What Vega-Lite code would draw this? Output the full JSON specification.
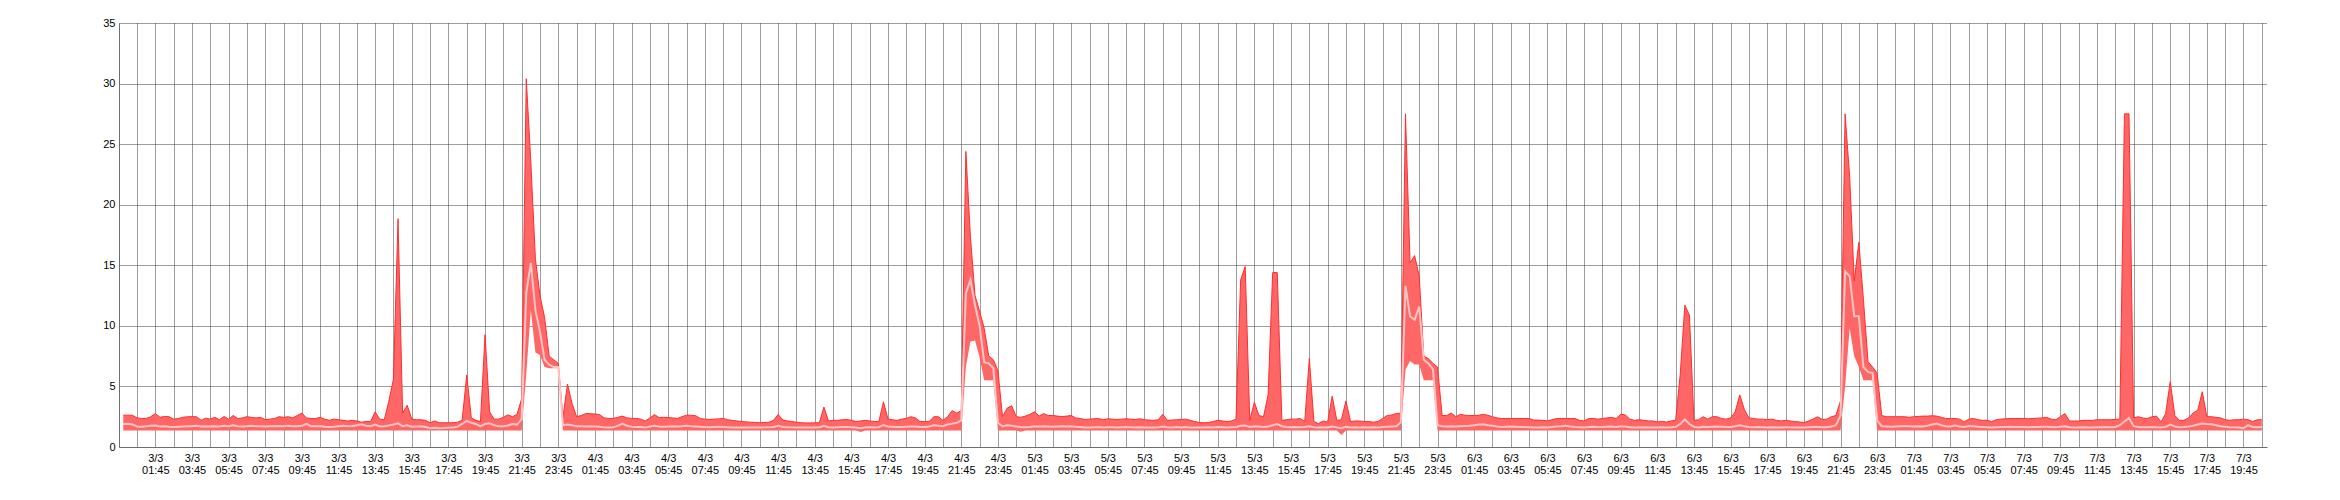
{
"$schema": "https://vega.github.io/schema/vega-lite/v6.json",
"width": 2148,
"height": 424,
"autosize": {"type": "none"},
"padding": {"left": 119, "top": 23, "right": 73, "bottom": 53},
"background": "#ffffff",
"config": {
  "view": {"stroke": null},
  "axis": {"labelFont": "Liberation Sans", "labelFontSize": 11, "labelColor": "#000000", "domainColor": "#6e6e6e", "domainWidth": 1, "gridColor": "#3a3a3a", "gridDash": [1, 1], "gridWidth": 1, "gridOpacity": 1, "ticks": false, "title": null}
},
"data": {"values": [
{"t":"2024-03-03T00:00","hi":2.63,"av":1.90,"lo":1.37},
{"t":"2024-03-03T00:15","hi":2.63,"av":1.92,"lo":1.37},
{"t":"2024-03-03T00:30","hi":2.62,"av":1.85,"lo":1.37},
{"t":"2024-03-03T00:45","hi":2.40,"av":1.70,"lo":1.37},
{"t":"2024-03-03T01:00","hi":2.36,"av":1.68,"lo":1.37},
{"t":"2024-03-03T01:15","hi":2.36,"av":1.72,"lo":1.37},
{"t":"2024-03-03T01:30","hi":2.50,"av":1.75,"lo":1.37},
{"t":"2024-03-03T01:45","hi":2.76,"av":1.78,"lo":1.37},
{"t":"2024-03-03T02:00","hi":2.45,"av":1.70,"lo":1.37},
{"t":"2024-03-03T02:15","hi":2.52,"av":1.72,"lo":1.37},
{"t":"2024-03-03T02:30","hi":2.50,"av":1.68,"lo":1.37},
{"t":"2024-03-03T02:45","hi":2.30,"av":1.65,"lo":1.37},
{"t":"2024-03-03T03:00","hi":2.35,"av":1.68,"lo":1.37},
{"t":"2024-03-03T03:15","hi":2.45,"av":1.70,"lo":1.37},
{"t":"2024-03-03T03:30","hi":2.50,"av":1.72,"lo":1.37},
{"t":"2024-03-03T03:45","hi":2.50,"av":1.72,"lo":1.37},
{"t":"2024-03-03T04:00","hi":2.50,"av":1.75,"lo":1.37},
{"t":"2024-03-03T04:15","hi":2.20,"av":1.70,"lo":1.37},
{"t":"2024-03-03T04:30","hi":2.38,"av":1.72,"lo":1.37},
{"t":"2024-03-03T04:45","hi":2.30,"av":1.70,"lo":1.37},
{"t":"2024-03-03T05:00","hi":2.45,"av":1.72,"lo":1.37},
{"t":"2024-03-03T05:15","hi":2.25,"av":1.70,"lo":1.37},
{"t":"2024-03-03T05:30","hi":2.52,"av":1.75,"lo":1.37},
{"t":"2024-03-03T05:45","hi":2.30,"av":1.72,"lo":1.37},
{"t":"2024-03-03T06:00","hi":2.60,"av":1.80,"lo":1.37},
{"t":"2024-03-03T06:15","hi":2.35,"av":1.72,"lo":1.37},
{"t":"2024-03-03T06:30","hi":2.40,"av":1.70,"lo":1.37},
{"t":"2024-03-03T06:45","hi":2.50,"av":1.72,"lo":1.37},
{"t":"2024-03-03T07:00","hi":2.45,"av":1.75,"lo":1.37},
{"t":"2024-03-03T07:15","hi":2.40,"av":1.72,"lo":1.37},
{"t":"2024-03-03T07:30","hi":2.45,"av":1.72,"lo":1.37},
{"t":"2024-03-03T07:45","hi":2.25,"av":1.70,"lo":1.37},
{"t":"2024-03-03T08:00","hi":2.30,"av":1.72,"lo":1.37},
{"t":"2024-03-03T08:15","hi":2.35,"av":1.74,"lo":1.37},
{"t":"2024-03-03T08:30","hi":2.50,"av":1.72,"lo":1.37},
{"t":"2024-03-03T08:45","hi":2.45,"av":1.72,"lo":1.37},
{"t":"2024-03-03T09:00","hi":2.50,"av":1.75,"lo":1.37},
{"t":"2024-03-03T09:15","hi":2.40,"av":1.72,"lo":1.37},
{"t":"2024-03-03T09:30","hi":2.60,"av":1.72,"lo":1.37},
{"t":"2024-03-03T09:45","hi":2.80,"av":1.75,"lo":1.37},
{"t":"2024-03-03T10:00","hi":2.40,"av":1.92,"lo":1.37},
{"t":"2024-03-03T10:15","hi":2.35,"av":1.72,"lo":1.37},
{"t":"2024-03-03T10:30","hi":2.35,"av":1.72,"lo":1.37},
{"t":"2024-03-03T10:45","hi":2.45,"av":1.74,"lo":1.37},
{"t":"2024-03-03T11:00","hi":2.30,"av":1.68,"lo":1.37},
{"t":"2024-03-03T11:15","hi":2.20,"av":1.65,"lo":1.37},
{"t":"2024-03-03T11:30","hi":2.30,"av":1.68,"lo":1.37},
{"t":"2024-03-03T11:45","hi":2.25,"av":1.72,"lo":1.37},
{"t":"2024-03-03T12:00","hi":2.20,"av":1.75,"lo":1.37},
{"t":"2024-03-03T12:15","hi":2.15,"av":1.72,"lo":1.37},
{"t":"2024-03-03T12:30","hi":2.20,"av":1.74,"lo":1.37},
{"t":"2024-03-03T12:45","hi":2.15,"av":1.80,"lo":1.37},
{"t":"2024-03-03T13:00","hi":2.05,"av":1.88,"lo":1.37},
{"t":"2024-03-03T13:15","hi":2.10,"av":1.75,"lo":1.37},
{"t":"2024-03-03T13:30","hi":2.10,"av":1.72,"lo":1.37},
{"t":"2024-03-03T13:45","hi":2.90,"av":1.85,"lo":1.37},
{"t":"2024-03-03T14:00","hi":2.30,"av":1.70,"lo":1.37},
{"t":"2024-03-03T14:15","hi":2.25,"av":1.72,"lo":1.37},
{"t":"2024-03-03T14:30","hi":3.80,"av":1.78,"lo":1.37},
{"t":"2024-03-03T14:45","hi":5.60,"av":1.85,"lo":1.37},
{"t":"2024-03-03T15:00","hi":18.85,"av":1.95,"lo":1.37},
{"t":"2024-03-03T15:15","hi":2.80,"av":1.72,"lo":1.37},
{"t":"2024-03-03T15:30","hi":3.45,"av":1.80,"lo":1.37},
{"t":"2024-03-03T15:45","hi":2.30,"av":1.68,"lo":1.37},
{"t":"2024-03-03T16:00","hi":2.25,"av":1.70,"lo":1.37},
{"t":"2024-03-03T16:15","hi":2.25,"av":1.72,"lo":1.37},
{"t":"2024-03-03T16:30","hi":2.20,"av":1.65,"lo":1.37},
{"t":"2024-03-03T16:45","hi":2.00,"av":1.55,"lo":1.37},
{"t":"2024-03-03T17:00","hi":2.15,"av":1.58,"lo":1.37},
{"t":"2024-03-03T17:15","hi":2.00,"av":1.55,"lo":1.37},
{"t":"2024-03-03T17:30","hi":2.00,"av":1.56,"lo":1.37},
{"t":"2024-03-03T17:45","hi":2.00,"av":1.58,"lo":1.37},
{"t":"2024-03-03T18:00","hi":2.00,"av":1.60,"lo":1.37},
{"t":"2024-03-03T18:15","hi":2.05,"av":1.68,"lo":1.37},
{"t":"2024-03-03T18:30","hi":2.20,"av":1.90,"lo":1.37},
{"t":"2024-03-03T18:45","hi":5.95,"av":2.15,"lo":1.37},
{"t":"2024-03-03T19:00","hi":2.40,"av":2.00,"lo":1.37},
{"t":"2024-03-03T19:15","hi":2.20,"av":1.90,"lo":1.37},
{"t":"2024-03-03T19:30","hi":2.10,"av":1.70,"lo":1.37},
{"t":"2024-03-03T19:45","hi":9.26,"av":1.90,"lo":1.37},
{"t":"2024-03-03T20:00","hi":2.90,"av":1.95,"lo":1.37},
{"t":"2024-03-03T20:15","hi":2.30,"av":1.80,"lo":1.37},
{"t":"2024-03-03T20:30","hi":2.30,"av":1.72,"lo":1.37},
{"t":"2024-03-03T20:45","hi":2.45,"av":1.72,"lo":1.37},
{"t":"2024-03-03T21:00","hi":2.65,"av":1.78,"lo":1.37},
{"t":"2024-03-03T21:15","hi":2.50,"av":1.90,"lo":1.37},
{"t":"2024-03-03T21:30","hi":2.70,"av":1.85,"lo":1.37},
{"t":"2024-03-03T21:45","hi":4.00,"av":2.30,"lo":1.37},
{"t":"2024-03-03T22:00","hi":30.40,"av":12.70,"lo":6.00},
{"t":"2024-03-03T22:15","hi":23.50,"av":15.20,"lo":11.30},
{"t":"2024-03-03T22:30","hi":15.50,"av":11.30,"lo":7.80},
{"t":"2024-03-03T22:45","hi":12.50,"av":9.50,"lo":7.60},
{"t":"2024-03-03T23:00","hi":10.70,"av":7.20,"lo":6.60},
{"t":"2024-03-03T23:15","hi":7.50,"av":6.80,"lo":6.50},
{"t":"2024-03-03T23:30","hi":7.20,"av":6.60,"lo":6.50},
{"t":"2024-03-03T23:45","hi":6.90,"av":6.60,"lo":6.50},
{"t":"2024-03-04T00:00","hi":2.40,"av":1.80,"lo":1.37},
{"t":"2024-03-04T00:15","hi":5.20,"av":1.85,"lo":1.37},
{"t":"2024-03-04T00:30","hi":3.60,"av":1.80,"lo":1.37},
{"t":"2024-03-04T00:45","hi":2.50,"av":1.72,"lo":1.37},
{"t":"2024-03-04T01:00","hi":2.60,"av":1.72,"lo":1.37},
{"t":"2024-03-04T01:15","hi":2.76,"av":1.70,"lo":1.37},
{"t":"2024-03-04T01:30","hi":2.75,"av":1.72,"lo":1.37},
{"t":"2024-03-04T01:45","hi":2.72,"av":1.70,"lo":1.37},
{"t":"2024-03-04T02:00","hi":2.68,"av":1.68,"lo":1.37},
{"t":"2024-03-04T02:15","hi":2.40,"av":1.62,"lo":1.37},
{"t":"2024-03-04T02:30","hi":2.36,"av":1.60,"lo":1.37},
{"t":"2024-03-04T02:45","hi":2.36,"av":1.62,"lo":1.37},
{"t":"2024-03-04T03:00","hi":2.45,"av":1.75,"lo":1.37},
{"t":"2024-03-04T03:15","hi":2.55,"av":1.93,"lo":1.37},
{"t":"2024-03-04T03:30","hi":2.40,"av":1.75,"lo":1.37},
{"t":"2024-03-04T03:45","hi":2.36,"av":1.68,"lo":1.37},
{"t":"2024-03-04T04:00","hi":2.36,"av":1.66,"lo":1.37},
{"t":"2024-03-04T04:15","hi":2.30,"av":1.66,"lo":1.37},
{"t":"2024-03-04T04:30","hi":2.15,"av":1.62,"lo":1.37},
{"t":"2024-03-04T04:45","hi":2.40,"av":1.70,"lo":1.37},
{"t":"2024-03-04T05:00","hi":2.68,"av":1.75,"lo":1.37},
{"t":"2024-03-04T05:15","hi":2.43,"av":1.70,"lo":1.37},
{"t":"2024-03-04T05:30","hi":2.45,"av":1.68,"lo":1.37},
{"t":"2024-03-04T05:45","hi":2.43,"av":1.70,"lo":1.37},
{"t":"2024-03-04T06:00","hi":2.40,"av":1.72,"lo":1.37},
{"t":"2024-03-04T06:15","hi":2.36,"av":1.70,"lo":1.37},
{"t":"2024-03-04T06:30","hi":2.50,"av":1.72,"lo":1.37},
{"t":"2024-03-04T06:45","hi":2.63,"av":1.75,"lo":1.37},
{"t":"2024-03-04T07:00","hi":2.62,"av":1.72,"lo":1.37},
{"t":"2024-03-04T07:15","hi":2.58,"av":1.70,"lo":1.37},
{"t":"2024-03-04T07:30","hi":2.35,"av":1.68,"lo":1.37},
{"t":"2024-03-04T07:45","hi":2.30,"av":1.66,"lo":1.37},
{"t":"2024-03-04T08:00","hi":2.27,"av":1.64,"lo":1.37},
{"t":"2024-03-04T08:15","hi":2.30,"av":1.66,"lo":1.37},
{"t":"2024-03-04T08:30","hi":2.32,"av":1.68,"lo":1.37},
{"t":"2024-03-04T08:45","hi":2.36,"av":1.66,"lo":1.37},
{"t":"2024-03-04T09:00","hi":2.25,"av":1.64,"lo":1.37},
{"t":"2024-03-04T09:15","hi":2.20,"av":1.62,"lo":1.37},
{"t":"2024-03-04T09:30","hi":2.15,"av":1.62,"lo":1.37},
{"t":"2024-03-04T09:45","hi":2.10,"av":1.60,"lo":1.37},
{"t":"2024-03-04T10:00","hi":2.07,"av":1.60,"lo":1.37},
{"t":"2024-03-04T10:15","hi":2.05,"av":1.62,"lo":1.37},
{"t":"2024-03-04T10:30","hi":2.03,"av":1.62,"lo":1.37},
{"t":"2024-03-04T10:45","hi":2.00,"av":1.60,"lo":1.37},
{"t":"2024-03-04T11:00","hi":2.02,"av":1.62,"lo":1.37},
{"t":"2024-03-04T11:15","hi":2.05,"av":1.64,"lo":1.37},
{"t":"2024-03-04T11:30","hi":2.20,"av":1.66,"lo":1.37},
{"t":"2024-03-04T11:45","hi":2.68,"av":1.75,"lo":1.37},
{"t":"2024-03-04T12:00","hi":2.25,"av":1.66,"lo":1.37},
{"t":"2024-03-04T12:15","hi":2.15,"av":1.64,"lo":1.37},
{"t":"2024-03-04T12:30","hi":2.10,"av":1.62,"lo":1.37},
{"t":"2024-03-04T12:45","hi":2.05,"av":1.60,"lo":1.37},
{"t":"2024-03-04T13:00","hi":2.00,"av":1.60,"lo":1.37},
{"t":"2024-03-04T13:15","hi":1.99,"av":1.62,"lo":1.37},
{"t":"2024-03-04T13:30","hi":1.99,"av":1.62,"lo":1.37},
{"t":"2024-03-04T13:45","hi":2.00,"av":1.60,"lo":1.37},
{"t":"2024-03-04T14:00","hi":2.00,"av":1.62,"lo":1.37},
{"t":"2024-03-04T14:15","hi":3.30,"av":1.75,"lo":1.37},
{"t":"2024-03-04T14:30","hi":2.15,"av":1.64,"lo":1.37},
{"t":"2024-03-04T14:45","hi":2.20,"av":1.62,"lo":1.37},
{"t":"2024-03-04T15:00","hi":2.20,"av":1.64,"lo":1.37},
{"t":"2024-03-04T15:15","hi":2.25,"av":1.66,"lo":1.37},
{"t":"2024-03-04T15:30","hi":2.27,"av":1.66,"lo":1.37},
{"t":"2024-03-04T15:45","hi":2.20,"av":1.64,"lo":1.37},
{"t":"2024-03-04T16:00","hi":2.10,"av":1.60,"lo":1.37},
{"t":"2024-03-04T16:15","hi":2.15,"av":1.55,"lo":1.24},
{"t":"2024-03-04T16:30","hi":2.20,"av":1.62,"lo":1.37},
{"t":"2024-03-04T16:45","hi":2.15,"av":1.64,"lo":1.37},
{"t":"2024-03-04T17:00","hi":2.10,"av":1.62,"lo":1.37},
{"t":"2024-03-04T17:15","hi":2.10,"av":1.64,"lo":1.37},
{"t":"2024-03-04T17:30","hi":3.73,"av":1.82,"lo":1.37},
{"t":"2024-03-04T17:45","hi":2.30,"av":1.70,"lo":1.37},
{"t":"2024-03-04T18:00","hi":2.25,"av":1.68,"lo":1.37},
{"t":"2024-03-04T18:15","hi":2.20,"av":1.66,"lo":1.37},
{"t":"2024-03-04T18:30","hi":2.30,"av":1.66,"lo":1.37},
{"t":"2024-03-04T18:45","hi":2.35,"av":1.68,"lo":1.37},
{"t":"2024-03-04T19:00","hi":2.50,"av":1.70,"lo":1.37},
{"t":"2024-03-04T19:15","hi":2.40,"av":1.70,"lo":1.37},
{"t":"2024-03-04T19:30","hi":2.10,"av":1.66,"lo":1.37},
{"t":"2024-03-04T19:45","hi":2.10,"av":1.66,"lo":1.37},
{"t":"2024-03-04T20:00","hi":2.10,"av":1.70,"lo":1.37},
{"t":"2024-03-04T20:15","hi":2.50,"av":1.80,"lo":1.37},
{"t":"2024-03-04T20:30","hi":2.50,"av":1.76,"lo":1.37},
{"t":"2024-03-04T20:45","hi":2.20,"av":1.72,"lo":1.37},
{"t":"2024-03-04T21:00","hi":2.50,"av":1.85,"lo":1.37},
{"t":"2024-03-04T21:15","hi":3.00,"av":1.93,"lo":1.37},
{"t":"2024-03-04T21:30","hi":2.80,"av":2.00,"lo":1.37},
{"t":"2024-03-04T21:45","hi":3.00,"av":2.20,"lo":1.37},
{"t":"2024-03-04T22:00","hi":24.40,"av":12.70,"lo":6.60},
{"t":"2024-03-04T22:15","hi":17.30,"av":13.80,"lo":8.70},
{"t":"2024-03-04T22:30","hi":12.50,"av":11.70,"lo":8.80},
{"t":"2024-03-04T22:45","hi":11.20,"av":10.00,"lo":7.40},
{"t":"2024-03-04T23:00","hi":9.80,"av":7.00,"lo":5.50},
{"t":"2024-03-04T23:15","hi":7.50,"av":6.90,"lo":5.50},
{"t":"2024-03-04T23:30","hi":7.20,"av":6.50,"lo":5.50},
{"t":"2024-03-04T23:45","hi":6.30,"av":2.00,"lo":1.37},
{"t":"2024-03-05T00:00","hi":2.50,"av":1.70,"lo":1.37},
{"t":"2024-03-05T00:15","hi":3.20,"av":1.80,"lo":1.37},
{"t":"2024-03-05T00:30","hi":3.40,"av":1.75,"lo":1.37},
{"t":"2024-03-05T00:45","hi":2.50,"av":1.70,"lo":1.37},
{"t":"2024-03-05T01:00","hi":2.45,"av":1.66,"lo":1.25},
{"t":"2024-03-05T01:15","hi":2.55,"av":1.64,"lo":1.37},
{"t":"2024-03-05T01:30","hi":2.70,"av":1.66,"lo":1.37},
{"t":"2024-03-05T01:45","hi":2.90,"av":1.72,"lo":1.37},
{"t":"2024-03-05T02:00","hi":2.55,"av":1.70,"lo":1.37},
{"t":"2024-03-05T02:15","hi":2.76,"av":1.72,"lo":1.37},
{"t":"2024-03-05T02:30","hi":2.60,"av":1.70,"lo":1.37},
{"t":"2024-03-05T02:45","hi":2.60,"av":1.68,"lo":1.37},
{"t":"2024-03-05T03:00","hi":2.55,"av":1.70,"lo":1.37},
{"t":"2024-03-05T03:15","hi":2.50,"av":1.72,"lo":1.37},
{"t":"2024-03-05T03:30","hi":2.55,"av":1.70,"lo":1.37},
{"t":"2024-03-05T03:45","hi":2.60,"av":1.72,"lo":1.37},
{"t":"2024-03-05T04:00","hi":2.40,"av":1.68,"lo":1.37},
{"t":"2024-03-05T04:15","hi":2.35,"av":1.66,"lo":1.37},
{"t":"2024-03-05T04:30","hi":2.27,"av":1.62,"lo":1.37},
{"t":"2024-03-05T04:45","hi":2.30,"av":1.62,"lo":1.37},
{"t":"2024-03-05T05:00","hi":2.33,"av":1.64,"lo":1.37},
{"t":"2024-03-05T05:15","hi":2.35,"av":1.66,"lo":1.37},
{"t":"2024-03-05T05:30","hi":2.25,"av":1.62,"lo":1.37},
{"t":"2024-03-05T05:45","hi":2.33,"av":1.64,"lo":1.37},
{"t":"2024-03-05T06:00","hi":2.30,"av":1.64,"lo":1.37},
{"t":"2024-03-05T06:15","hi":2.27,"av":1.62,"lo":1.37},
{"t":"2024-03-05T06:30","hi":2.30,"av":1.64,"lo":1.37},
{"t":"2024-03-05T06:45","hi":2.33,"av":1.66,"lo":1.37},
{"t":"2024-03-05T07:00","hi":2.30,"av":1.64,"lo":1.37},
{"t":"2024-03-05T07:15","hi":2.27,"av":1.62,"lo":1.37},
{"t":"2024-03-05T07:30","hi":2.33,"av":1.64,"lo":1.37},
{"t":"2024-03-05T07:45","hi":2.25,"av":1.62,"lo":1.37},
{"t":"2024-03-05T08:00","hi":2.22,"av":1.62,"lo":1.37},
{"t":"2024-03-05T08:15","hi":2.20,"av":1.60,"lo":1.37},
{"t":"2024-03-05T08:30","hi":2.25,"av":1.62,"lo":1.37},
{"t":"2024-03-05T08:45","hi":2.70,"av":1.70,"lo":1.37},
{"t":"2024-03-05T09:00","hi":2.20,"av":1.64,"lo":1.37},
{"t":"2024-03-05T09:15","hi":2.22,"av":1.62,"lo":1.37},
{"t":"2024-03-05T09:30","hi":2.25,"av":1.66,"lo":1.37},
{"t":"2024-03-05T09:45","hi":2.27,"av":1.62,"lo":1.37},
{"t":"2024-03-05T10:00","hi":2.30,"av":1.66,"lo":1.37},
{"t":"2024-03-05T10:15","hi":2.20,"av":1.60,"lo":1.37},
{"t":"2024-03-05T10:30","hi":2.10,"av":1.62,"lo":1.37},
{"t":"2024-03-05T10:45","hi":2.02,"av":1.62,"lo":1.37},
{"t":"2024-03-05T11:00","hi":2.00,"av":1.62,"lo":1.37},
{"t":"2024-03-05T11:15","hi":2.02,"av":1.64,"lo":1.37},
{"t":"2024-03-05T11:30","hi":2.10,"av":1.62,"lo":1.37},
{"t":"2024-03-05T11:45","hi":2.20,"av":1.66,"lo":1.37},
{"t":"2024-03-05T12:00","hi":2.15,"av":1.64,"lo":1.37},
{"t":"2024-03-05T12:15","hi":2.10,"av":1.62,"lo":1.37},
{"t":"2024-03-05T12:30","hi":2.15,"av":1.64,"lo":1.37},
{"t":"2024-03-05T12:45","hi":2.30,"av":1.66,"lo":1.37},
{"t":"2024-03-05T13:00","hi":13.80,"av":1.75,"lo":1.37},
{"t":"2024-03-05T13:15","hi":14.90,"av":1.78,"lo":1.37},
{"t":"2024-03-05T13:30","hi":2.20,"av":1.66,"lo":1.37},
{"t":"2024-03-05T13:45","hi":3.70,"av":1.72,"lo":1.37},
{"t":"2024-03-05T14:00","hi":2.60,"av":1.70,"lo":1.37},
{"t":"2024-03-05T14:15","hi":2.50,"av":1.66,"lo":1.37},
{"t":"2024-03-05T14:30","hi":4.30,"av":1.70,"lo":1.37},
{"t":"2024-03-05T14:45","hi":14.40,"av":1.80,"lo":1.37},
{"t":"2024-03-05T15:00","hi":14.40,"av":1.90,"lo":1.37},
{"t":"2024-03-05T15:15","hi":2.20,"av":1.72,"lo":1.37},
{"t":"2024-03-05T15:30","hi":2.25,"av":1.66,"lo":1.37},
{"t":"2024-03-05T15:45","hi":2.30,"av":1.64,"lo":1.37},
{"t":"2024-03-05T16:00","hi":2.30,"av":1.66,"lo":1.37},
{"t":"2024-03-05T16:15","hi":2.35,"av":1.64,"lo":1.37},
{"t":"2024-03-05T16:30","hi":2.10,"av":1.66,"lo":1.37},
{"t":"2024-03-05T16:45","hi":7.30,"av":1.72,"lo":1.37},
{"t":"2024-03-05T17:00","hi":2.10,"av":1.64,"lo":1.37},
{"t":"2024-03-05T17:15","hi":1.93,"av":1.62,"lo":1.37},
{"t":"2024-03-05T17:30","hi":2.15,"av":1.64,"lo":1.37},
{"t":"2024-03-05T17:45","hi":2.05,"av":1.62,"lo":1.37},
{"t":"2024-03-05T18:00","hi":4.20,"av":1.70,"lo":1.37},
{"t":"2024-03-05T18:15","hi":2.20,"av":1.62,"lo":1.37},
{"t":"2024-03-05T18:30","hi":2.25,"av":1.55,"lo":1.00},
{"t":"2024-03-05T18:45","hi":3.80,"av":1.66,"lo":1.37},
{"t":"2024-03-05T19:00","hi":2.10,"av":1.62,"lo":1.37},
{"t":"2024-03-05T19:15","hi":2.15,"av":1.64,"lo":1.37},
{"t":"2024-03-05T19:30","hi":2.15,"av":1.62,"lo":1.37},
{"t":"2024-03-05T19:45","hi":2.10,"av":1.64,"lo":1.37},
{"t":"2024-03-05T20:00","hi":2.10,"av":1.62,"lo":1.37},
{"t":"2024-03-05T20:15","hi":2.05,"av":1.64,"lo":1.37},
{"t":"2024-03-05T20:30","hi":2.10,"av":1.62,"lo":1.37},
{"t":"2024-03-05T20:45","hi":2.35,"av":1.66,"lo":1.37},
{"t":"2024-03-05T21:00","hi":2.60,"av":1.68,"lo":1.37},
{"t":"2024-03-05T21:15","hi":2.65,"av":1.70,"lo":1.37},
{"t":"2024-03-05T21:30","hi":2.76,"av":1.72,"lo":1.37},
{"t":"2024-03-05T21:45","hi":2.80,"av":2.05,"lo":1.37},
{"t":"2024-03-05T22:00","hi":27.50,"av":13.30,"lo":6.40},
{"t":"2024-03-05T22:15","hi":15.20,"av":10.80,"lo":7.10},
{"t":"2024-03-05T22:30","hi":15.80,"av":10.50,"lo":6.80},
{"t":"2024-03-05T22:45","hi":14.10,"av":11.60,"lo":6.80},
{"t":"2024-03-05T23:00","hi":7.50,"av":7.20,"lo":5.50},
{"t":"2024-03-05T23:15","hi":7.30,"av":6.90,"lo":5.50},
{"t":"2024-03-05T23:30","hi":6.90,"av":6.40,"lo":5.50},
{"t":"2024-03-05T23:45","hi":6.60,"av":1.80,"lo":1.37},
{"t":"2024-03-06T00:00","hi":2.60,"av":1.72,"lo":1.37},
{"t":"2024-03-06T00:15","hi":2.60,"av":1.70,"lo":1.37},
{"t":"2024-03-06T00:30","hi":2.80,"av":1.72,"lo":1.37},
{"t":"2024-03-06T00:45","hi":2.50,"av":1.70,"lo":1.37},
{"t":"2024-03-06T01:00","hi":2.70,"av":1.72,"lo":1.37},
{"t":"2024-03-06T01:15","hi":2.62,"av":1.74,"lo":1.37},
{"t":"2024-03-06T01:30","hi":2.60,"av":1.76,"lo":1.37},
{"t":"2024-03-06T01:45","hi":2.60,"av":1.80,"lo":1.37},
{"t":"2024-03-06T02:00","hi":2.62,"av":1.85,"lo":1.37},
{"t":"2024-03-06T02:15","hi":2.70,"av":1.88,"lo":1.37},
{"t":"2024-03-06T02:30","hi":2.62,"av":1.80,"lo":1.37},
{"t":"2024-03-06T02:45","hi":2.50,"av":1.75,"lo":1.37},
{"t":"2024-03-06T03:00","hi":2.40,"av":1.70,"lo":1.37},
{"t":"2024-03-06T03:15","hi":2.35,"av":1.66,"lo":1.37},
{"t":"2024-03-06T03:30","hi":2.35,"av":1.68,"lo":1.37},
{"t":"2024-03-06T03:45","hi":2.35,"av":1.70,"lo":1.37},
{"t":"2024-03-06T04:00","hi":2.35,"av":1.68,"lo":1.37},
{"t":"2024-03-06T04:15","hi":2.35,"av":1.66,"lo":1.37},
{"t":"2024-03-06T04:30","hi":2.35,"av":1.66,"lo":1.37},
{"t":"2024-03-06T04:45","hi":2.35,"av":1.64,"lo":1.37},
{"t":"2024-03-06T05:00","hi":2.22,"av":1.62,"lo":1.37},
{"t":"2024-03-06T05:15","hi":2.22,"av":1.62,"lo":1.37},
{"t":"2024-03-06T05:30","hi":2.20,"av":1.64,"lo":1.37},
{"t":"2024-03-06T05:45","hi":2.15,"av":1.62,"lo":1.37},
{"t":"2024-03-06T06:00","hi":2.25,"av":1.66,"lo":1.37},
{"t":"2024-03-06T06:15","hi":2.35,"av":1.70,"lo":1.37},
{"t":"2024-03-06T06:30","hi":2.35,"av":1.72,"lo":1.37},
{"t":"2024-03-06T06:45","hi":2.35,"av":1.75,"lo":1.37},
{"t":"2024-03-06T07:00","hi":2.35,"av":1.70,"lo":1.37},
{"t":"2024-03-06T07:15","hi":2.35,"av":1.66,"lo":1.37},
{"t":"2024-03-06T07:30","hi":2.20,"av":1.64,"lo":1.37},
{"t":"2024-03-06T07:45","hi":2.15,"av":1.62,"lo":1.37},
{"t":"2024-03-06T08:00","hi":2.35,"av":1.66,"lo":1.37},
{"t":"2024-03-06T08:15","hi":2.35,"av":1.68,"lo":1.37},
{"t":"2024-03-06T08:30","hi":2.30,"av":1.66,"lo":1.37},
{"t":"2024-03-06T08:45","hi":2.35,"av":1.66,"lo":1.37},
{"t":"2024-03-06T09:00","hi":2.40,"av":1.68,"lo":1.37},
{"t":"2024-03-06T09:15","hi":2.45,"av":1.70,"lo":1.37},
{"t":"2024-03-06T09:30","hi":2.35,"av":1.66,"lo":1.37},
{"t":"2024-03-06T09:45","hi":2.70,"av":1.72,"lo":1.37},
{"t":"2024-03-06T10:00","hi":2.65,"av":1.70,"lo":1.37},
{"t":"2024-03-06T10:15","hi":2.30,"av":1.64,"lo":1.37},
{"t":"2024-03-06T10:30","hi":2.20,"av":1.62,"lo":1.37},
{"t":"2024-03-06T10:45","hi":2.25,"av":1.62,"lo":1.37},
{"t":"2024-03-06T11:00","hi":2.20,"av":1.64,"lo":1.37},
{"t":"2024-03-06T11:15","hi":2.15,"av":1.62,"lo":1.37},
{"t":"2024-03-06T11:30","hi":2.15,"av":1.62,"lo":1.37},
{"t":"2024-03-06T11:45","hi":2.07,"av":1.60,"lo":1.37},
{"t":"2024-03-06T12:00","hi":2.10,"av":1.62,"lo":1.37},
{"t":"2024-03-06T12:15","hi":2.07,"av":1.60,"lo":1.37},
{"t":"2024-03-06T12:30","hi":2.15,"av":1.62,"lo":1.37},
{"t":"2024-03-06T12:45","hi":2.20,"av":1.66,"lo":1.37},
{"t":"2024-03-06T13:00","hi":6.00,"av":1.90,"lo":1.37},
{"t":"2024-03-06T13:15","hi":11.70,"av":2.27,"lo":1.37},
{"t":"2024-03-06T13:30","hi":10.90,"av":1.90,"lo":1.37},
{"t":"2024-03-06T13:45","hi":2.20,"av":1.66,"lo":1.37},
{"t":"2024-03-06T14:00","hi":2.25,"av":1.62,"lo":1.37},
{"t":"2024-03-06T14:15","hi":2.50,"av":1.68,"lo":1.37},
{"t":"2024-03-06T14:30","hi":2.30,"av":1.66,"lo":1.37},
{"t":"2024-03-06T14:45","hi":2.50,"av":1.68,"lo":1.37},
{"t":"2024-03-06T15:00","hi":2.50,"av":1.70,"lo":1.37},
{"t":"2024-03-06T15:15","hi":2.35,"av":1.68,"lo":1.37},
{"t":"2024-03-06T15:30","hi":2.30,"av":1.66,"lo":1.37},
{"t":"2024-03-06T15:45","hi":2.40,"av":1.66,"lo":1.37},
{"t":"2024-03-06T16:00","hi":2.90,"av":1.72,"lo":1.37},
{"t":"2024-03-06T16:15","hi":4.30,"av":1.80,"lo":1.37},
{"t":"2024-03-06T16:30","hi":3.10,"av":1.72,"lo":1.37},
{"t":"2024-03-06T16:45","hi":2.40,"av":1.66,"lo":1.37},
{"t":"2024-03-06T17:00","hi":2.35,"av":1.64,"lo":1.37},
{"t":"2024-03-06T17:15","hi":2.30,"av":1.66,"lo":1.37},
{"t":"2024-03-06T17:30","hi":2.30,"av":1.64,"lo":1.37},
{"t":"2024-03-06T17:45","hi":2.25,"av":1.62,"lo":1.37},
{"t":"2024-03-06T18:00","hi":2.30,"av":1.64,"lo":1.37},
{"t":"2024-03-06T18:15","hi":2.20,"av":1.62,"lo":1.37},
{"t":"2024-03-06T18:30","hi":2.15,"av":1.62,"lo":1.37},
{"t":"2024-03-06T18:45","hi":2.20,"av":1.64,"lo":1.37},
{"t":"2024-03-06T19:00","hi":2.15,"av":1.62,"lo":1.37},
{"t":"2024-03-06T19:15","hi":2.10,"av":1.60,"lo":1.37},
{"t":"2024-03-06T19:30","hi":2.07,"av":1.62,"lo":1.37},
{"t":"2024-03-06T19:45","hi":2.00,"av":1.62,"lo":1.37},
{"t":"2024-03-06T20:00","hi":2.15,"av":1.64,"lo":1.37},
{"t":"2024-03-06T20:15","hi":2.30,"av":1.66,"lo":1.37},
{"t":"2024-03-06T20:30","hi":2.50,"av":1.66,"lo":1.37},
{"t":"2024-03-06T20:45","hi":2.27,"av":1.64,"lo":1.37},
{"t":"2024-03-06T21:00","hi":2.30,"av":1.64,"lo":1.37},
{"t":"2024-03-06T21:15","hi":2.50,"av":1.70,"lo":1.37},
{"t":"2024-03-06T21:30","hi":2.60,"av":1.80,"lo":1.37},
{"t":"2024-03-06T21:45","hi":3.80,"av":2.60,"lo":1.37},
{"t":"2024-03-06T22:00","hi":27.50,"av":14.50,"lo":5.00},
{"t":"2024-03-06T22:15","hi":22.30,"av":14.10,"lo":9.80},
{"t":"2024-03-06T22:30","hi":13.70,"av":10.80,"lo":7.50},
{"t":"2024-03-06T22:45","hi":16.90,"av":10.80,"lo":6.60},
{"t":"2024-03-06T23:00","hi":12.20,"av":6.60,"lo":5.50},
{"t":"2024-03-06T23:15","hi":7.05,"av":6.20,"lo":5.50},
{"t":"2024-03-06T23:30","hi":6.60,"av":6.10,"lo":5.50},
{"t":"2024-03-06T23:45","hi":6.10,"av":2.20,"lo":1.37},
{"t":"2024-03-07T00:00","hi":2.60,"av":1.72,"lo":1.37},
{"t":"2024-03-07T00:15","hi":2.50,"av":1.70,"lo":1.37},
{"t":"2024-03-07T00:30","hi":2.50,"av":1.68,"lo":1.37},
{"t":"2024-03-07T00:45","hi":2.50,"av":1.70,"lo":1.37},
{"t":"2024-03-07T01:00","hi":2.50,"av":1.72,"lo":1.37},
{"t":"2024-03-07T01:15","hi":2.50,"av":1.74,"lo":1.37},
{"t":"2024-03-07T01:30","hi":2.45,"av":1.72,"lo":1.37},
{"t":"2024-03-07T01:45","hi":2.50,"av":1.70,"lo":1.37},
{"t":"2024-03-07T02:00","hi":2.52,"av":1.72,"lo":1.37},
{"t":"2024-03-07T02:15","hi":2.55,"av":1.70,"lo":1.37},
{"t":"2024-03-07T02:30","hi":2.55,"av":1.76,"lo":1.37},
{"t":"2024-03-07T02:45","hi":2.58,"av":1.85,"lo":1.37},
{"t":"2024-03-07T03:00","hi":2.55,"av":1.93,"lo":1.37},
{"t":"2024-03-07T03:15","hi":2.45,"av":1.80,"lo":1.37},
{"t":"2024-03-07T03:30","hi":2.35,"av":1.72,"lo":1.37},
{"t":"2024-03-07T03:45","hi":2.35,"av":1.70,"lo":1.37},
{"t":"2024-03-07T04:00","hi":2.35,"av":1.78,"lo":1.37},
{"t":"2024-03-07T04:15","hi":2.30,"av":1.70,"lo":1.37},
{"t":"2024-03-07T04:30","hi":2.07,"av":1.66,"lo":1.37},
{"t":"2024-03-07T04:45","hi":2.30,"av":1.74,"lo":1.37},
{"t":"2024-03-07T05:00","hi":2.35,"av":1.72,"lo":1.37},
{"t":"2024-03-07T05:15","hi":2.25,"av":1.68,"lo":1.37},
{"t":"2024-03-07T05:30","hi":2.20,"av":1.66,"lo":1.37},
{"t":"2024-03-07T05:45","hi":2.20,"av":1.64,"lo":1.37},
{"t":"2024-03-07T06:00","hi":2.10,"av":1.62,"lo":1.37},
{"t":"2024-03-07T06:15","hi":2.25,"av":1.64,"lo":1.37},
{"t":"2024-03-07T06:30","hi":2.30,"av":1.66,"lo":1.37},
{"t":"2024-03-07T06:45","hi":2.33,"av":1.66,"lo":1.37},
{"t":"2024-03-07T07:00","hi":2.35,"av":1.68,"lo":1.37},
{"t":"2024-03-07T07:15","hi":2.35,"av":1.66,"lo":1.37},
{"t":"2024-03-07T07:30","hi":2.35,"av":1.66,"lo":1.37},
{"t":"2024-03-07T07:45","hi":2.35,"av":1.66,"lo":1.37},
{"t":"2024-03-07T08:00","hi":2.33,"av":1.64,"lo":1.37},
{"t":"2024-03-07T08:15","hi":2.35,"av":1.66,"lo":1.37},
{"t":"2024-03-07T08:30","hi":2.38,"av":1.66,"lo":1.37},
{"t":"2024-03-07T08:45","hi":2.40,"av":1.68,"lo":1.37},
{"t":"2024-03-07T09:00","hi":2.45,"av":1.68,"lo":1.37},
{"t":"2024-03-07T09:15","hi":2.30,"av":1.66,"lo":1.37},
{"t":"2024-03-07T09:30","hi":2.25,"av":1.64,"lo":1.37},
{"t":"2024-03-07T09:45","hi":2.50,"av":1.68,"lo":1.37},
{"t":"2024-03-07T10:00","hi":2.76,"av":1.72,"lo":1.37},
{"t":"2024-03-07T10:15","hi":2.15,"av":1.64,"lo":1.37},
{"t":"2024-03-07T10:30","hi":2.15,"av":1.62,"lo":1.37},
{"t":"2024-03-07T10:45","hi":2.15,"av":1.62,"lo":1.37},
{"t":"2024-03-07T11:00","hi":2.20,"av":1.64,"lo":1.37},
{"t":"2024-03-07T11:15","hi":2.20,"av":1.62,"lo":1.37},
{"t":"2024-03-07T11:30","hi":2.20,"av":1.62,"lo":1.37},
{"t":"2024-03-07T11:45","hi":2.25,"av":1.64,"lo":1.37},
{"t":"2024-03-07T12:00","hi":2.25,"av":1.64,"lo":1.37},
{"t":"2024-03-07T12:15","hi":2.25,"av":1.66,"lo":1.37},
{"t":"2024-03-07T12:30","hi":2.25,"av":1.64,"lo":1.37},
{"t":"2024-03-07T12:45","hi":2.28,"av":1.66,"lo":1.37},
{"t":"2024-03-07T13:00","hi":2.30,"av":1.80,"lo":1.37},
{"t":"2024-03-07T13:15","hi":27.50,"av":2.10,"lo":1.37},
{"t":"2024-03-07T13:30","hi":27.50,"av":2.40,"lo":1.37},
{"t":"2024-03-07T13:45","hi":2.40,"av":1.72,"lo":1.37},
{"t":"2024-03-07T14:00","hi":2.50,"av":1.66,"lo":1.37},
{"t":"2024-03-07T14:15","hi":2.40,"av":1.64,"lo":1.37},
{"t":"2024-03-07T14:30","hi":2.35,"av":1.64,"lo":1.37},
{"t":"2024-03-07T14:45","hi":2.50,"av":1.66,"lo":1.37},
{"t":"2024-03-07T15:00","hi":2.55,"av":1.64,"lo":1.37},
{"t":"2024-03-07T15:15","hi":2.07,"av":1.62,"lo":1.37},
{"t":"2024-03-07T15:30","hi":2.76,"av":1.66,"lo":1.37},
{"t":"2024-03-07T15:45","hi":5.40,"av":1.85,"lo":1.37},
{"t":"2024-03-07T16:00","hi":2.60,"av":1.70,"lo":1.37},
{"t":"2024-03-07T16:15","hi":2.20,"av":1.64,"lo":1.37},
{"t":"2024-03-07T16:30","hi":2.20,"av":1.66,"lo":1.37},
{"t":"2024-03-07T16:45","hi":2.40,"av":1.70,"lo":1.37},
{"t":"2024-03-07T17:00","hi":2.80,"av":1.76,"lo":1.37},
{"t":"2024-03-07T17:15","hi":3.04,"av":1.85,"lo":1.37},
{"t":"2024-03-07T17:30","hi":4.56,"av":1.93,"lo":1.37},
{"t":"2024-03-07T17:45","hi":2.50,"av":1.90,"lo":1.37},
{"t":"2024-03-07T18:00","hi":2.50,"av":1.88,"lo":1.37},
{"t":"2024-03-07T18:15","hi":2.45,"av":1.80,"lo":1.37},
{"t":"2024-03-07T18:30","hi":2.40,"av":1.72,"lo":1.37},
{"t":"2024-03-07T18:45","hi":2.25,"av":1.68,"lo":1.37},
{"t":"2024-03-07T19:00","hi":2.20,"av":1.64,"lo":1.37},
{"t":"2024-03-07T19:15","hi":2.25,"av":1.62,"lo":1.37},
{"t":"2024-03-07T19:30","hi":2.25,"av":1.60,"lo":1.37},
{"t":"2024-03-07T19:45","hi":2.30,"av":1.55,"lo":1.37},
{"t":"2024-03-07T20:00","hi":2.25,"av":1.80,"lo":1.37},
{"t":"2024-03-07T20:15","hi":2.10,"av":1.66,"lo":1.37},
{"t":"2024-03-07T20:30","hi":2.25,"av":1.64,"lo":1.37},
{"t":"2024-03-07T20:45","hi":2.25,"av":1.66,"lo":1.37}
]},
"encoding": {
  "x": {
    "field": "t", "type": "temporal",
    "scale": {"domain": [{"year": 2024, "month": 3, "date": 2, "hours": 23, "minutes": 46}, {"year": 2024, "month": 3, "date": 7, "hours": 21, "minutes": 2}]},
    "axis": {
      "grid": true, "labelAlign": "center", "labelBaseline": "top", "labelLineHeight": 12, "labelPadding": 5, "labelOverlap": false, "labelFlush": false, "labelBound": false,
      "labelExpr": "hours(datum.value) % 2 == 1 ? [timeFormat(datum.value, '%-d/%-m'), timeFormat(datum.value, '%H:%M')] : ''",
      "values": [
{"year":2024,"month":3,"date":3,"hours":0,"minutes":45},{"year":2024,"month":3,"date":3,"hours":1,"minutes":45},{"year":2024,"month":3,"date":3,"hours":2,"minutes":45},{"year":2024,"month":3,"date":3,"hours":3,"minutes":45},{"year":2024,"month":3,"date":3,"hours":4,"minutes":45},{"year":2024,"month":3,"date":3,"hours":5,"minutes":45},{"year":2024,"month":3,"date":3,"hours":6,"minutes":45},{"year":2024,"month":3,"date":3,"hours":7,"minutes":45},{"year":2024,"month":3,"date":3,"hours":8,"minutes":45},{"year":2024,"month":3,"date":3,"hours":9,"minutes":45},{"year":2024,"month":3,"date":3,"hours":10,"minutes":45},{"year":2024,"month":3,"date":3,"hours":11,"minutes":45},{"year":2024,"month":3,"date":3,"hours":12,"minutes":45},{"year":2024,"month":3,"date":3,"hours":13,"minutes":45},{"year":2024,"month":3,"date":3,"hours":14,"minutes":45},{"year":2024,"month":3,"date":3,"hours":15,"minutes":45},{"year":2024,"month":3,"date":3,"hours":16,"minutes":45},{"year":2024,"month":3,"date":3,"hours":17,"minutes":45},{"year":2024,"month":3,"date":3,"hours":18,"minutes":45},{"year":2024,"month":3,"date":3,"hours":19,"minutes":45},{"year":2024,"month":3,"date":3,"hours":20,"minutes":45},{"year":2024,"month":3,"date":3,"hours":21,"minutes":45},{"year":2024,"month":3,"date":3,"hours":22,"minutes":45},{"year":2024,"month":3,"date":3,"hours":23,"minutes":45},
{"year":2024,"month":3,"date":4,"hours":0,"minutes":45},{"year":2024,"month":3,"date":4,"hours":1,"minutes":45},{"year":2024,"month":3,"date":4,"hours":2,"minutes":45},{"year":2024,"month":3,"date":4,"hours":3,"minutes":45},{"year":2024,"month":3,"date":4,"hours":4,"minutes":45},{"year":2024,"month":3,"date":4,"hours":5,"minutes":45},{"year":2024,"month":3,"date":4,"hours":6,"minutes":45},{"year":2024,"month":3,"date":4,"hours":7,"minutes":45},{"year":2024,"month":3,"date":4,"hours":8,"minutes":45},{"year":2024,"month":3,"date":4,"hours":9,"minutes":45},{"year":2024,"month":3,"date":4,"hours":10,"minutes":45},{"year":2024,"month":3,"date":4,"hours":11,"minutes":45},{"year":2024,"month":3,"date":4,"hours":12,"minutes":45},{"year":2024,"month":3,"date":4,"hours":13,"minutes":45},{"year":2024,"month":3,"date":4,"hours":14,"minutes":45},{"year":2024,"month":3,"date":4,"hours":15,"minutes":45},{"year":2024,"month":3,"date":4,"hours":16,"minutes":45},{"year":2024,"month":3,"date":4,"hours":17,"minutes":45},{"year":2024,"month":3,"date":4,"hours":18,"minutes":45},{"year":2024,"month":3,"date":4,"hours":19,"minutes":45},{"year":2024,"month":3,"date":4,"hours":20,"minutes":45},{"year":2024,"month":3,"date":4,"hours":21,"minutes":45},{"year":2024,"month":3,"date":4,"hours":22,"minutes":45},{"year":2024,"month":3,"date":4,"hours":23,"minutes":45},
{"year":2024,"month":3,"date":5,"hours":0,"minutes":45},{"year":2024,"month":3,"date":5,"hours":1,"minutes":45},{"year":2024,"month":3,"date":5,"hours":2,"minutes":45},{"year":2024,"month":3,"date":5,"hours":3,"minutes":45},{"year":2024,"month":3,"date":5,"hours":4,"minutes":45},{"year":2024,"month":3,"date":5,"hours":5,"minutes":45},{"year":2024,"month":3,"date":5,"hours":6,"minutes":45},{"year":2024,"month":3,"date":5,"hours":7,"minutes":45},{"year":2024,"month":3,"date":5,"hours":8,"minutes":45},{"year":2024,"month":3,"date":5,"hours":9,"minutes":45},{"year":2024,"month":3,"date":5,"hours":10,"minutes":45},{"year":2024,"month":3,"date":5,"hours":11,"minutes":45},{"year":2024,"month":3,"date":5,"hours":12,"minutes":45},{"year":2024,"month":3,"date":5,"hours":13,"minutes":45},{"year":2024,"month":3,"date":5,"hours":14,"minutes":45},{"year":2024,"month":3,"date":5,"hours":15,"minutes":45},{"year":2024,"month":3,"date":5,"hours":16,"minutes":45},{"year":2024,"month":3,"date":5,"hours":17,"minutes":45},{"year":2024,"month":3,"date":5,"hours":18,"minutes":45},{"year":2024,"month":3,"date":5,"hours":19,"minutes":45},{"year":2024,"month":3,"date":5,"hours":20,"minutes":45},{"year":2024,"month":3,"date":5,"hours":21,"minutes":45},{"year":2024,"month":3,"date":5,"hours":22,"minutes":45},{"year":2024,"month":3,"date":5,"hours":23,"minutes":45},
{"year":2024,"month":3,"date":6,"hours":0,"minutes":45},{"year":2024,"month":3,"date":6,"hours":1,"minutes":45},{"year":2024,"month":3,"date":6,"hours":2,"minutes":45},{"year":2024,"month":3,"date":6,"hours":3,"minutes":45},{"year":2024,"month":3,"date":6,"hours":4,"minutes":45},{"year":2024,"month":3,"date":6,"hours":5,"minutes":45},{"year":2024,"month":3,"date":6,"hours":6,"minutes":45},{"year":2024,"month":3,"date":6,"hours":7,"minutes":45},{"year":2024,"month":3,"date":6,"hours":8,"minutes":45},{"year":2024,"month":3,"date":6,"hours":9,"minutes":45},{"year":2024,"month":3,"date":6,"hours":10,"minutes":45},{"year":2024,"month":3,"date":6,"hours":11,"minutes":45},{"year":2024,"month":3,"date":6,"hours":12,"minutes":45},{"year":2024,"month":3,"date":6,"hours":13,"minutes":45},{"year":2024,"month":3,"date":6,"hours":14,"minutes":45},{"year":2024,"month":3,"date":6,"hours":15,"minutes":45},{"year":2024,"month":3,"date":6,"hours":16,"minutes":45},{"year":2024,"month":3,"date":6,"hours":17,"minutes":45},{"year":2024,"month":3,"date":6,"hours":18,"minutes":45},{"year":2024,"month":3,"date":6,"hours":19,"minutes":45},{"year":2024,"month":3,"date":6,"hours":20,"minutes":45},{"year":2024,"month":3,"date":6,"hours":21,"minutes":45},{"year":2024,"month":3,"date":6,"hours":22,"minutes":45},{"year":2024,"month":3,"date":6,"hours":23,"minutes":45},
{"year":2024,"month":3,"date":7,"hours":0,"minutes":45},{"year":2024,"month":3,"date":7,"hours":1,"minutes":45},{"year":2024,"month":3,"date":7,"hours":2,"minutes":45},{"year":2024,"month":3,"date":7,"hours":3,"minutes":45},{"year":2024,"month":3,"date":7,"hours":4,"minutes":45},{"year":2024,"month":3,"date":7,"hours":5,"minutes":45},{"year":2024,"month":3,"date":7,"hours":6,"minutes":45},{"year":2024,"month":3,"date":7,"hours":7,"minutes":45},{"year":2024,"month":3,"date":7,"hours":8,"minutes":45},{"year":2024,"month":3,"date":7,"hours":9,"minutes":45},{"year":2024,"month":3,"date":7,"hours":10,"minutes":45},{"year":2024,"month":3,"date":7,"hours":11,"minutes":45},{"year":2024,"month":3,"date":7,"hours":12,"minutes":45},{"year":2024,"month":3,"date":7,"hours":13,"minutes":45},{"year":2024,"month":3,"date":7,"hours":14,"minutes":45},{"year":2024,"month":3,"date":7,"hours":15,"minutes":45},{"year":2024,"month":3,"date":7,"hours":16,"minutes":45},{"year":2024,"month":3,"date":7,"hours":17,"minutes":45},{"year":2024,"month":3,"date":7,"hours":18,"minutes":45},{"year":2024,"month":3,"date":7,"hours":19,"minutes":45},{"year":2024,"month":3,"date":7,"hours":20,"minutes":45}
      ]
    }
  }
},
"layer": [
  {
    "mark": {"type": "area", "fill": "#ff6666", "fillOpacity": 1, "opacity": 1, "strokeWidth": 0},
    "encoding": {
      "y": {"field": "hi", "type": "quantitative", "scale": {"domain": [0, 35], "nice": false, "zero": true},
        "axis": {"values": [0, 5, 10, 15, 20, 25, 30, 35], "grid": true, "labelPadding": 4}},
      "y2": {"field": "lo"}
    }
  },
  {
    "mark": {"type": "line", "stroke": "#ff2e2e", "strokeWidth": 1},
    "encoding": {"y": {"field": "hi", "type": "quantitative"}}
  },
  {
    "mark": {"type": "line", "stroke": "#ffc4c4", "strokeWidth": 2},
    "encoding": {"y": {"field": "av", "type": "quantitative"}}
  }
]
}
